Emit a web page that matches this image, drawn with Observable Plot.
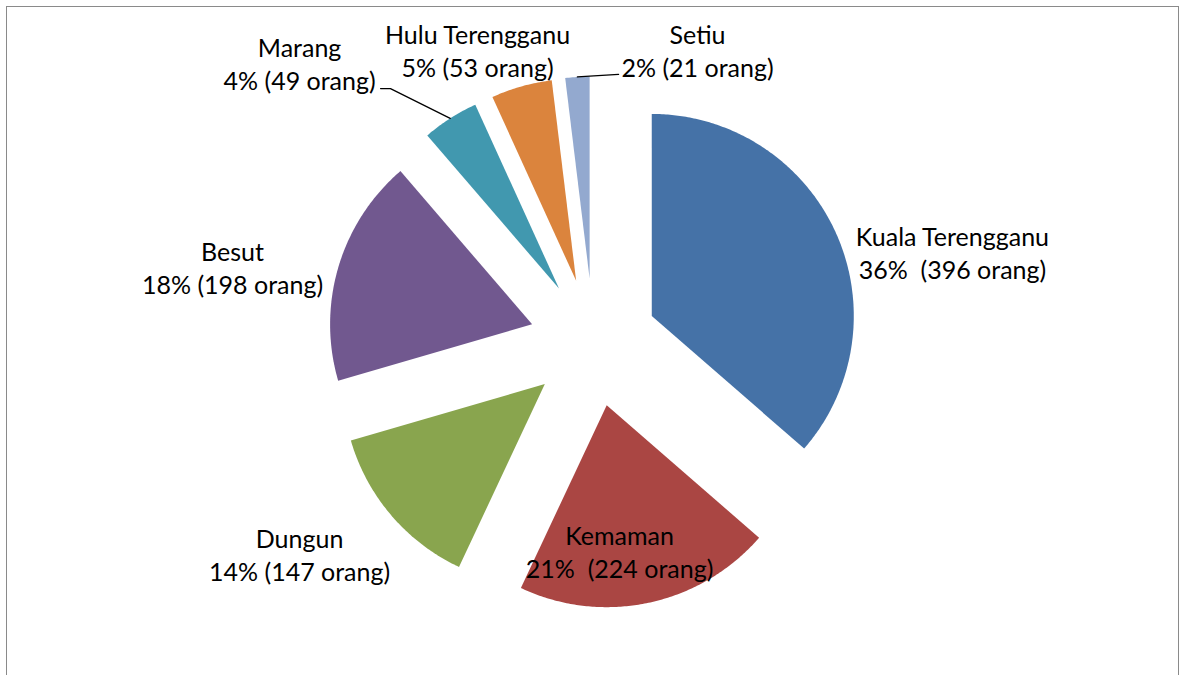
<!DOCTYPE html>
<html>
<head>
<meta charset="utf-8">
<script src="https://cdn.jsdelivr.net/npm/d3@7"></script>
<script src="https://cdn.jsdelivr.net/npm/@observablehq/plot@0.6"></script>
<style>
  html, body { margin: 0; padding: 0; background: #fff; }
  #wrap { position: relative; width: 1183px; height: 675px; overflow: hidden; }
  #frame { position: absolute; left: 6px; top: 6px; width: 1173px; height: 720px;
           border: 1.5px solid #8a8a8a; box-sizing: border-box; }
  #chart { position: absolute; left: 0; top: 0; }
</style>
</head>
<body>
<div id="wrap"><div id="frame"></div><div id="chart"></div></div>
<script>
// ---- data ----
const districts = ["Kuala Terengganu", "Kemaman", "Dungun", "Besut", "Marang", "Hulu Terengganu", "Setiu"];
const counts    = [396, 224, 147, 198, 49, 53, 21];
const percents  = ["36%", "21%", "14%", "18%", "4%", "5%", "2%"];
const pctSep    = ["  ", "  ", " ", " ", " ", " ", " "];
const colors    = ["#4572A7", "#AA4643", "#89A54E", "#71588F", "#4198AF", "#DB843D", "#93A9CF"];

// label anchor positions (pie-radius units, origin at pie centre, y up)
const labelX = [1.777, 0.129, -1.455, -1.787, -1.455, -0.574, 0.515];
const labelY = [0.446, -1.030, -1.045, 0.376, 1.386, 1.446, 1.446];
// leader line label-side points (pie-radius units) ; empty = no leader
const leaderPts = [[], [], [], [], [[-1.054, 1.257], [-1.005, 1.257]], [], [[0.124, 1.327]]];

// ---- layout ----
const W = 1183, H = 675;
const CX = 593, CY = 342, R = 202;   // pixel centre & radius
const explode = 0.317;               // offset as fraction of radius

const pie = d3.pie().sort(null).value(d => d)(counts);
const slices = pie.map((p, i) => {
  const mid = (p.startAngle + p.endAngle) / 2;
  const ox = explode * Math.sin(mid), oy = explode * Math.cos(mid);
  const pts = [{x: ox, y: oy}];
  const n = Math.max(8, Math.ceil((p.endAngle - p.startAngle) / 0.01));
  for (let k = 0; k <= n; k++) {
    const a = p.startAngle + (p.endAngle - p.startAngle) * k / n;
    pts.push({x: ox + Math.sin(a), y: oy + Math.cos(a)});
  }
  const arcMid = {x: ox + Math.sin(mid), y: oy + Math.cos(mid)};
  return {name: districts[i], color: colors[i], pts, arcMid};
});

const labels = districts.map((d, i) => ({
  x: labelX[i], y: labelY[i],
  text: `${d}\n${percents[i]}${pctSep[i]}(${counts[i]} orang)`
}));

const leaders = [];
leaderPts.forEach((lp, i) => {
  if (!lp.length) return;
  const line = lp.map(([x, y]) => ({x, y, g: i}));
  line.push({x: slices[i].arcMid.x, y: slices[i].arcMid.y, g: i});
  leaders.push(...line);
});

const plot = Plot.plot({
  width: W, height: H,
  margin: 0,
  x: {domain: [(0 - CX) / R, (W - CX) / R], axis: null},
  y: {domain: [(CY - H) / R, CY / R], axis: null},
  style: {background: "transparent", fontFamily: "Lato, 'Open Sans', sans-serif"},
  marks: [
    ...slices.map(s => Plot.line(s.pts, {x: "x", y: "y", fill: s.color, stroke: "none", curve: "linear-closed"})),
    Plot.line(leaders, {x: "x", y: "y", z: "g", stroke: "#000", strokeWidth: 1.3}),
    Plot.text(labels, {x: "x", y: "y", text: "text", fontSize: 25, lineHeight: 1.32,
      fill: "#000", textAnchor: "middle", lineAnchor: "middle"})
  ]
});
document.getElementById("chart").appendChild(plot);
</script>
</body>
</html>
